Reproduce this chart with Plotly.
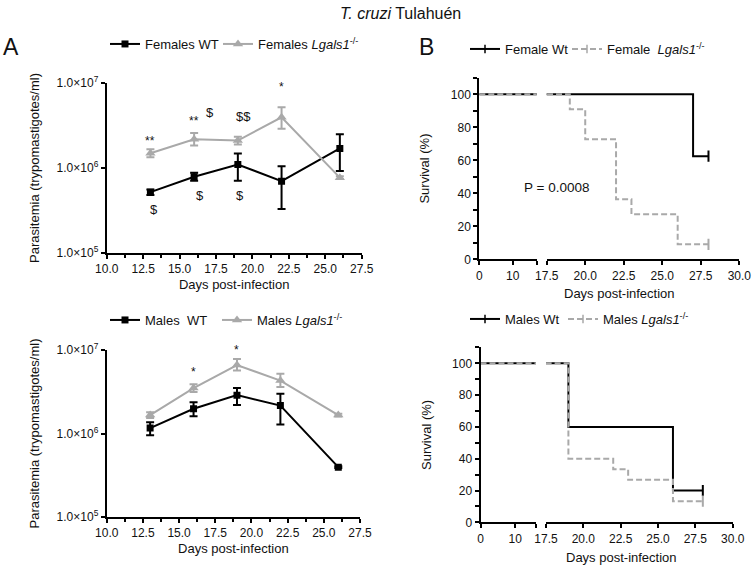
import plotly.graph_objects as go

# ---------------- data ----------------
days = [13, 16, 19, 22, 26]

fem_wt_mean = [5.2e5, 7.9e5, 1.1e6, 7.0e5, 1.7e6]
fem_wt_hi = [5.6e5, 8.8e5, 1.48e6, 1.05e6, 2.5e6]
fem_wt_lo = [4.8e5, 7.1e5, 7.1e5, 3.3e5, 9.2e5]

fem_ko_mean = [1.49e6, 2.18e6, 2.1e6, 3.95e6, 7.7e5]
fem_ko_hi = [1.66e6, 2.58e6, 2.33e6, 5.2e6, 8.0e5]
fem_ko_lo = [1.34e6, 1.84e6, 1.89e6, 2.9e6, 7.4e5]

male_wt_mean = [1.16e6, 1.98e6, 2.88e6, 2.16e6, 3.95e5]
male_wt_hi = [1.36e6, 2.37e6, 3.5e6, 3.0e6, 4.05e5]
male_wt_lo = [0.95e6, 1.61e6, 2.2e6, 1.28e6, 3.85e5]

male_ko_mean = [1.66e6, 3.5e6, 6.6e6, 4.3e6, 1.66e6]
male_ko_hi = [1.80e6, 3.9e6, 7.8e6, 5.2e6, 1.72e6]
male_ko_lo = [1.53e6, 3.13e6, 5.7e6, 3.6e6, 1.60e6]

# survival (Kaplan-Meier steps)
fem_wt_t = [0, 27, 28]
fem_wt_s = [100, 62.5, 62.5]
fem_ko_t = [0, 19, 20, 22, 23, 26, 28]
fem_ko_s = [100, 90.9, 72.7, 36.4, 27.3, 9.1, 9.1]
male_wt_t = [0, 19, 26, 28]
male_wt_s = [100, 60, 20, 20]
male_ko_t = [0, 19, 22, 23, 26, 28]
male_ko_s = [100, 40, 33.3, 26.7, 13.3, 13.3]

# significance marks: (text, day, log10 position)
sig_fem = [("**", 13, 6.32), ("**", 16, 6.55), ("$", 17.1, 6.65), ("$$", 19.4, 6.60),
           ("*", 22, 6.95), ("$", 13.25, 5.51), ("$", 16.4, 5.68), ("$", 19.15, 5.68)]
sig_male = [("*", 16, 6.74), ("*", 19, 7.0)]

x_ticks_A = [10.0, 12.5, 15.0, 17.5, 20.0, 22.5, 25.0, 27.5]
x_ticks_B2 = [17.5, 20.0, 22.5, 25.0, 27.5, 30.0]
y_ticks_A = [1e5, 1e6, 1e7]
y_ticktext_A = ["1.0×10<sup>5</sup>", "1.0×10<sup>6</sup>", "1.0×10<sup>7</sup>"]

# ---------------- style ----------------
FONT = "Arial, Liberation Sans, sans-serif"
BLACK = "#000000"
GRAY = "#a9a9a9"
W, H = 756, 566

fig = go.Figure()


def add_para(mean, hi, lo, color, symbol, msize, xa, ya, name, legend):
    plus = [h - m for h, m in zip(hi, mean)]
    minus = [m - l for m, l in zip(mean, lo)]
    fig.add_trace(go.Scatter(
        x=days, y=mean, mode="lines+markers", name=name, legend=legend,
        line=dict(color=color, width=2),
        marker=dict(symbol=symbol, size=msize, color=color),
        error_y=dict(type="data", symmetric=False, array=plus, arrayminus=minus,
                     color=color, thickness=2, width=4),
        xaxis=xa, yaxis=ya, hoverinfo="skip"))


def add_surv(t, s, color, dash, xas, ya, name, legend):
    for xa in xas:
        fig.add_trace(go.Scatter(
            x=t, y=s, mode="lines", line=dict(color=color, width=2, dash=dash, shape="hv"),
            xaxis=xa, yaxis=ya, showlegend=False, hoverinfo="skip"))
    fig.add_trace(go.Scatter(
        x=[t[-1]], y=[s[-1]], mode="markers",
        marker=dict(symbol="line-ns-open", size=8, color=color, line=dict(color=color, width=2)),
        xaxis=xas[1], yaxis=ya, showlegend=False, hoverinfo="skip"))
    fig.add_trace(go.Scatter(
        x=[None], y=[None], mode="lines+markers", name=name, legend=legend,
        line=dict(color=color, width=2, dash=dash),
        marker=dict(symbol="line-ns-open", size=6, color=color, line=dict(color=color, width=1.5)),
        xaxis=xas[1], yaxis=ya))


add_para(fem_wt_mean, fem_wt_hi, fem_wt_lo, BLACK, "square", 7, "x", "y", "Females WT", "legend")
add_para(fem_ko_mean, fem_ko_hi, fem_ko_lo, GRAY, "triangle-up", 9, "x", "y",
         "Females <i>Lgals1</i><sup>-/-</sup>", "legend2")
add_para(male_wt_mean, male_wt_hi, male_wt_lo, BLACK, "square", 7, "x2", "y2", "Males  WT", "legend3")
add_para(male_ko_mean, male_ko_hi, male_ko_lo, GRAY, "triangle-up", 9, "x2", "y2",
         "Males <i>Lgals1</i><sup>-/-</sup>", "legend4")

add_surv(fem_wt_t, fem_wt_s, BLACK, "solid", ["x3", "x4"], "y3", "Female Wt", "legend5")
add_surv(fem_ko_t, fem_ko_s, GRAY, "6px,3px", ["x3", "x4"], "y3",
         "Female  <i>Lgals1</i><sup>-/-</sup>", "legend6")
add_surv(male_wt_t, male_wt_s, BLACK, "solid", ["x5", "x6"], "y4", "Males Wt", "legend7")
add_surv(male_ko_t, male_ko_s, GRAY, "6px,3px", ["x5", "x6"], "y4",
         "Males <i>Lgals1</i><sup>-/-</sup>", "legend8")

axis_common = dict(showline=True, linecolor=BLACK, linewidth=2, ticks="outside", ticklen=4,
                   tickwidth=1.5, tickcolor=BLACK, showgrid=False, zeroline=False,
                   tickfont=dict(size=12, family=FONT, color="#111"))
title_font = dict(size=13, family=FONT, color="#111")


def px_x(p):
    return p / W


def px_y(p):
    return 1 - p / H


minor_x = dict(dtick=1.25, tick0=10, ticks="outside", ticklen=3, tickwidth=1.5, tickcolor=BLACK)
minor_y = dict(dtick=10, tick0=0, ticks="outside", ticklen=4, tickwidth=1.5, tickcolor=BLACK)

layout = dict(
    width=W, height=H, margin=dict(l=0, r=0, t=0, b=0, autoexpand=False),
    paper_bgcolor="white", plot_bgcolor="white",
    font=dict(family=FONT, color="#111"),
    xaxis=dict(domain=[px_x(106.7), px_x(361.7)], range=[10, 27.5], anchor="y",
               tickvals=x_ticks_A, tickformat=".1f", minor=minor_x,
               title=dict(text="Days post-infection", font=title_font, standoff=4), **axis_common),
    yaxis=dict(domain=[px_y(253), px_y(83)], type="log", range=[5, 7], anchor="x",
               tickvals=y_ticks_A, ticktext=y_ticktext_A,
               title=dict(text="Parasitemia (trypomastigotes/ml)", font=title_font, standoff=14), **axis_common),
    xaxis2=dict(domain=[px_x(106.7), px_x(360)], range=[10, 27.5], anchor="y2",
                tickvals=x_ticks_A, tickformat=".1f", minor=minor_x,
                title=dict(text="Days post-infection", font=title_font, standoff=4), **axis_common),
    yaxis2=dict(domain=[px_y(517), px_y(350)], type="log", range=[5, 7], anchor="x2",
                tickvals=y_ticks_A, ticktext=y_ticktext_A,
                title=dict(text="Parasitemia (trypomastigotes/ml)", font=title_font, standoff=14), **axis_common),
    xaxis3=dict(domain=[px_x(479.3), px_x(536.7)], range=[0, 17.2], anchor="y3",
                tickvals=[0, 10, 17.2], ticktext=["0", "10", ""], **axis_common),
    xaxis4=dict(domain=[px_x(546.7), px_x(739.3)], range=[17.5, 30], anchor="y3",
                tickvals=x_ticks_B2, tickformat=".1f", **axis_common),
    yaxis3=dict(domain=[px_y(259.3), px_y(77.8)], range=[0, 110], anchor="x3",
                tickvals=[0, 20, 40, 60, 80, 100], minor=minor_y,
                title=dict(text="Survival (%)", font=title_font, standoff=18), **axis_common),
    xaxis5=dict(domain=[px_x(480.5), px_x(536)], range=[0, 16.0], anchor="y4",
                tickvals=[0, 10, 16.0], ticktext=["0", "10", ""], **axis_common),
    xaxis6=dict(domain=[px_x(546), px_x(732.7)], range=[17.5, 30], anchor="y4",
                tickvals=x_ticks_B2, tickformat=".1f", **axis_common),
    yaxis4=dict(domain=[px_y(522.3), px_y(347.4)], range=[0, 110], anchor="x5",
                tickvals=[0, 20, 40, 60, 80, 100], minor=minor_y,
                title=dict(text="Survival (%)", font=title_font, standoff=18), **axis_common),
    showlegend=True,
)


def leg(text_x, y_px):
    return dict(x=px_x(text_x - 40), y=px_y(y_px), xanchor="left", yanchor="middle",
                orientation="h", bgcolor="rgba(0,0,0,0)", borderwidth=0,
                font=dict(size=13, family=FONT, color="#111"), itemwidth=30)


layout["legend"] = leg(145, 44)
layout["legend2"] = leg(258, 44)
layout["legend3"] = leg(145, 320)
layout["legend4"] = leg(257, 320)
layout["legend5"] = leg(505, 49)
layout["legend6"] = leg(607, 49)
layout["legend7"] = leg(505, 319)
layout["legend8"] = leg(603, 319)


def paper_text(text, x, y, size):
    return dict(text=text, x=px_x(x), y=px_y(y), xref="paper", yref="paper",
                xanchor="center", yanchor="middle", showarrow=False,
                font=dict(size=size, family=FONT, color="#111"))


annotations = [
    paper_text("<i>T. cruzi</i> Tulahuén", 400, 13, 16),
    paper_text("A", 11, 47, 23),
    paper_text("B", 427, 47, 23),
    paper_text("Days post-infection", 619, 293, 13),
    paper_text("Days post-infection", 621, 557, 13),
    dict(text="P = 0.0008", x=18.15, y=43.4, xref="x4", yref="y3", xanchor="center", yanchor="middle",
         showarrow=False, font=dict(size=13.5, family=FONT, color="#111")),
]
for txt, d, pos in sig_fem:
    annotations.append(dict(text=txt, x=d, y=pos, xref="x", yref="y", showarrow=False,
                            xanchor="center", yanchor="middle",
                            font=dict(size=13 if "$" in txt else 12, family=FONT, color="#111")))
for txt, d, pos in sig_male:
    annotations.append(dict(text=txt, x=d, y=pos, xref="x2", yref="y2", showarrow=False,
                            xanchor="center", yanchor="middle",
                            font=dict(size=12, family=FONT, color="#111")))
layout["annotations"] = annotations

fig.update_layout(**layout)
# remove the default 8px page margin so the figure sits at the window origin
fig.write_html("out.html", config={"displayModeBar": False},
               post_script="document.body.style.margin='0px';")
